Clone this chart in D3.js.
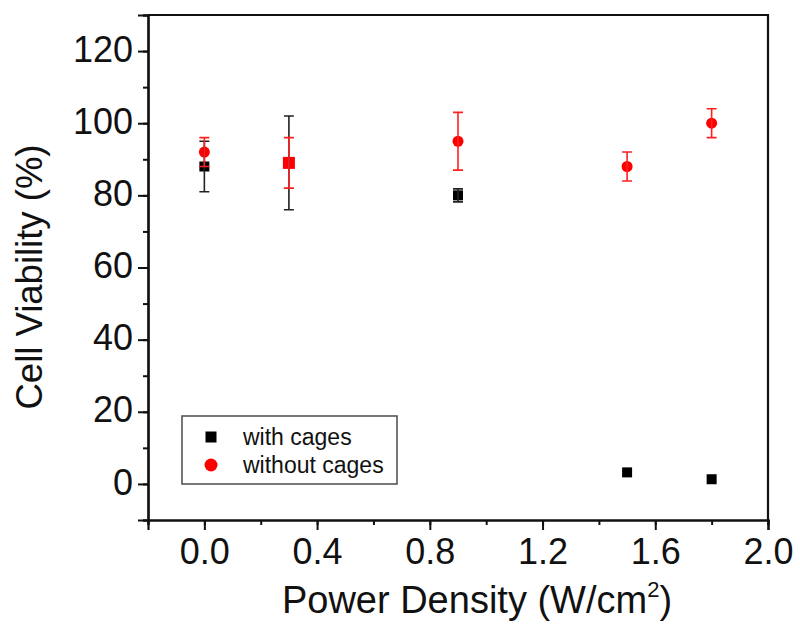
<!DOCTYPE html>
<html><head><meta charset="utf-8">
<script src="https://cdn.jsdelivr.net/npm/d3@7"></script>
<style>
html,body{margin:0;padding:0;background:#fff;}
text{font-family:"Liberation Sans",Arial,sans-serif;fill:#111;}
</style></head>
<body>
<svg id="chart" width="800" height="632"></svg>
<script>
// ---- data ----
const powerDensity = [0.0, 0.3, 0.9, 1.5, 1.8];
const withCages = [88, 89, 80, 3.2, 1.3];
const withCagesErr = [7, 13, 1.8, 0, 0];
const withoutCages = [92, 89, 95, 88, 100];
const withoutCagesErr = [4, 7, 8, 4, 4];
const xTicks = [0.0, 0.4, 0.8, 1.2, 1.6, 2.0];
const yTicks = [0, 20, 40, 60, 80, 100, 120];
const seriesNames = ["with cages", "without cages"];

const svg = d3.select("#chart");
const m = {left: 148, right: 768, top: 15, bottom: 520};
const x = d3.scaleLinear().domain([-0.2, 2.0]).range([m.left, m.right]);
const y = d3.scaleLinear().domain([-10, 130]).range([m.bottom, m.top]);

// frame (top and right)
svg.append("path")
  .attr("d", `M${m.left},${m.top}H${m.right}V${m.bottom}`)
  .attr("fill", "none").attr("stroke", "#111").attr("stroke-width", 2.2);

// x axis
const xMinor = d3.range(-0.2, 2.001, 0.2).map(v => +v.toFixed(2));
const gx = svg.append("g").attr("transform", `translate(0,${m.bottom})`);
gx.call(d3.axisBottom(x).tickValues(xMinor).tickSize(5).tickFormat(""));
const gx2 = svg.append("g").attr("transform", `translate(0,${m.bottom})`);
gx2.call(d3.axisBottom(x).tickValues(xTicks).tickSize(10).tickPadding(8).tickFormat(d3.format(".1f")));
[gx, gx2].forEach(g => {
  g.select(".domain").attr("stroke", "#111").attr("stroke-width", 2.2);
  g.selectAll(".tick line").attr("stroke", "#111").attr("stroke-width", 2);
});
gx2.selectAll(".tick text").attr("font-size", 36).attr("fill", "#111")
  .attr("font-family", '"Liberation Sans",Arial,sans-serif').attr("dy", "0.72em");

// y axis
const yMinor = d3.range(-10, 131, 10);
const gy = svg.append("g").attr("transform", `translate(${m.left},0)`);
gy.call(d3.axisLeft(y).tickValues(yMinor).tickSize(5).tickFormat(""));
const gy2 = svg.append("g").attr("transform", `translate(${m.left},0)`);
gy2.call(d3.axisLeft(y).tickValues(yTicks).tickSize(10).tickPadding(5));
[gy, gy2].forEach(g => {
  g.select(".domain").attr("stroke", "#111").attr("stroke-width", 2.2);
  g.selectAll(".tick line").attr("stroke", "#111").attr("stroke-width", 2);
});
gy2.selectAll(".tick text").attr("font-size", 36).attr("fill", "#111")
  .attr("font-family", '"Liberation Sans",Arial,sans-serif').attr("dy", "0.28em");

// axis titles
const xt = svg.append("text").attr("x", 477).attr("y", 613)
  .attr("text-anchor", "middle").attr("font-size", 38);
xt.append("tspan").text("Power Density (W/cm");
xt.append("tspan").text("2").attr("font-size", 22).attr("dy", -16);
xt.append("tspan").text(")").attr("dy", 16);

svg.append("text").attr("transform", "translate(42,277) rotate(-90)")
  .attr("text-anchor", "middle").attr("font-size", 36.5).text("Cell Viability (%)");

// data
const blk = "#000", red = "#ff0000";
const sq = 10, r = 5.5, cap = 5;
const withData = powerDensity.map((p, i) => ({x: p, y: withCages[i], e: withCagesErr[i]}));
const withoutData = powerDensity.map((p, i) => ({x: p, y: withoutCages[i], e: withoutCagesErr[i], same: withoutCages[i] === withCages[i]}));

const marks = svg.append("g");
marks.selectAll("rect.w").data(withData).join("rect")
  .attr("x", d => x(d.x) - sq / 2).attr("y", d => y(d.y) - sq / 2)
  .attr("width", sq).attr("height", sq).attr("fill", blk);
// red markers: when coincident with black, drawn as square covering it
marks.selectAll("rect.wo").data(withoutData.filter(d => d.same)).join("rect")
  .attr("x", d => x(d.x) - sq / 2 - 1).attr("y", d => y(d.y) - sq / 2 - 1)
  .attr("width", sq + 2).attr("height", sq + 2).attr("fill", red);
marks.selectAll("circle").data(withoutData.filter(d => !d.same)).join("circle")
  .attr("cx", d => x(d.x)).attr("cy", d => y(d.y)).attr("r", r).attr("fill", red);

function errbars(data, color) {
  const g = svg.append("g").attr("stroke", color).attr("stroke-width", 1.6).attr("fill", "none");
  data.filter(d => d.e > 0).forEach(d => {
    const cx = x(d.x), y1 = y(d.y + d.e), y0 = y(d.y - d.e);
    g.append("path").attr("d",
      `M${cx},${y1}V${y0}M${cx - cap},${y1}H${cx + cap}M${cx - cap},${y0}H${cx + cap}`);
  });
}
errbars(withData, "#222");
errbars(withoutData, "#ff2020");

// legend
const lg = svg.append("g");
lg.append("rect").attr("x", 182).attr("y", 416).attr("width", 215).attr("height", 68)
  .attr("fill", "#fff").attr("stroke", "#555").attr("stroke-width", 1.6);
lg.append("rect").attr("x", 211 - 5.5).attr("y", 437 - 5.5).attr("width", 11).attr("height", 11).attr("fill", blk);
lg.append("circle").attr("cx", 211).attr("cy", 465).attr("r", 6.5).attr("fill", red);
lg.append("text").attr("x", 243).attr("y", 445).attr("font-size", 23).text(seriesNames[0]);
lg.append("text").attr("x", 243).attr("y", 473).attr("font-size", 23).text(seriesNames[1]);
</script>
</body></html>
